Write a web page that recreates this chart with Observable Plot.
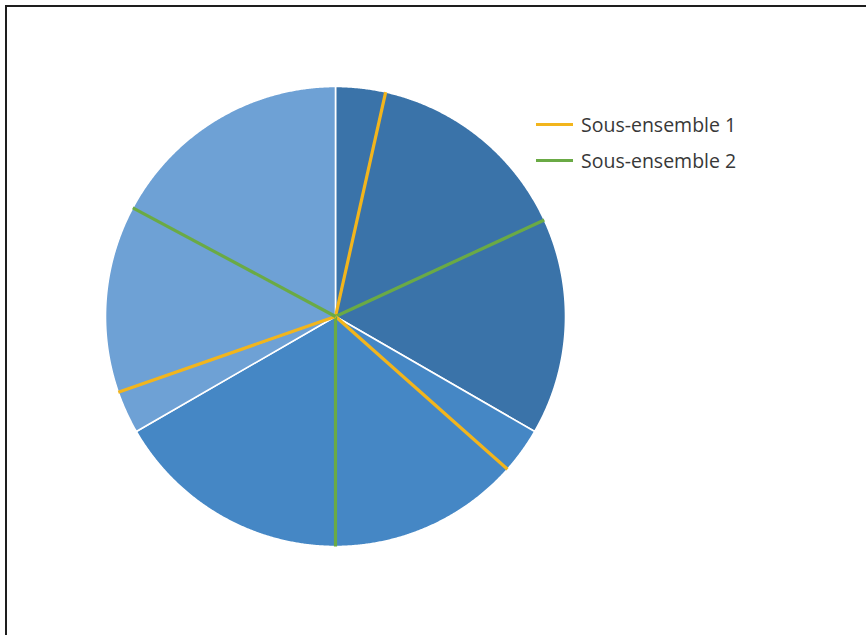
<!DOCTYPE html>
<html>
<head>
<meta charset="utf-8">
<script src="https://cdn.jsdelivr.net/npm/d3@7"></script>
<script src="https://cdn.jsdelivr.net/npm/@observablehq/plot@0.6"></script>
<style>
  html, body { margin: 0; padding: 0; background: #fff; }
  #wrap { position: relative; width: 866px; height: 635px; overflow: hidden; }
  #frame { position: absolute; left: 5px; top: 5px; width: 900px; height: 700px;
           border-top: 2px solid #1e1e1e; border-left: 2px solid #1e1e1e; pointer-events: none; }
  #legend { position: absolute; left: 536px; top: 106px; font-family: "Open Sans", "Liberation Sans", sans-serif;
            font-size: 19.5px; color: #383838; }
  .item { display: flex; align-items: center; height: 36px; }
  .swatch { width: 37px; height: 3px; margin-right: 8px; }
</style>
</head>
<body>
<div id="wrap">
  <div id="chart"></div>
  <div id="frame"></div>
  <div id="legend"></div>
</div>
<script>
// Slices (in reading order, clockwise from 12 o'clock), values read as angular shares
const sliceNames  = ["1a", "1b", "1c", "2a", "2b", "2c", "3a", "3b", "3c"];
const sliceGroups = ["Groupe 1", "Groupe 1", "Groupe 1", "Groupe 2", "Groupe 2", "Groupe 2", "Groupe 3", "Groupe 3", "Groupe 3"];
const sliceValues = [12.6, 52.6, 54.8, 11.6, 48.4, 60.0, 10.8, 47.4, 61.8];
// Line drawn on the edge that closes each slice
const edgeSeries  = ["Sous-ensemble 1", "Sous-ensemble 2", "bord", "Sous-ensemble 1", "Sous-ensemble 2", "bord", "Sous-ensemble 1", "Sous-ensemble 2", "bord"];
const groupNames  = ["Groupe 1", "Groupe 2", "Groupe 3"];
const legendNames = ["Sous-ensemble 1", "Sous-ensemble 2"];

const groupColors  = ["#3a73a9", "#4587c5", "#6ea1d5"];
const legendColors = ["#f2b51c", "#6aaa45"];

const W = 866, H = 635, R = 230, CX = 335, CY = 316;

const arcs = d3.pie().sort(null).value(d => d)(sliceValues);

// polygon vertices for each slice (center + arc)
const polys = [];
arcs.forEach((a, i) => {
  const n = Math.max(4, Math.ceil((a.endAngle - a.startAngle) / 0.005));
  polys.push({slice: sliceNames[i], group: sliceGroups[i], x: 0, y: 0});
  for (let k = 0; k <= n; k++) {
    const t = a.startAngle + (a.endAngle - a.startAngle) * k / n;
    polys.push({slice: sliceNames[i], group: sliceGroups[i], x: Math.sin(t), y: Math.cos(t)});
  }
  polys.push({slice: sliceNames[i], group: sliceGroups[i], x: 0, y: 0});
});

const edges = arcs.map((a, i) => ({series: edgeSeries[i], x: Math.sin(a.endAngle), y: Math.cos(a.endAngle)}));

const chart = Plot.plot({
  width: W, height: H,
  margin: 0,
  x: {domain: [-CX / R, (W - CX) / R], axis: null},
  y: {domain: [-(H - CY) / R, CY / R], axis: null},
  color: {domain: [...groupNames, ...legendNames], range: [...groupColors, ...legendColors]},
  marks: [
    Plot.line(polys, {x: "x", y: "y", z: "slice", fill: "group", stroke: "white", strokeWidth: 1.6, strokeLinejoin: "round"}),
    Plot.link(edges.filter(d => d.series !== "bord"), {x1: 0, y1: 0, x2: "x", y2: "y", stroke: "series", strokeWidth: 3.2})
  ]
});
document.getElementById("chart").appendChild(chart);

const legend = document.getElementById("legend");
legendNames.forEach((name, i) => {
  const item = document.createElement("div");
  item.className = "item";
  const sw = document.createElement("div");
  sw.className = "swatch";
  sw.style.background = legendColors[i];
  const tx = document.createElement("span");
  tx.textContent = name;
  item.appendChild(sw); item.appendChild(tx);
  legend.appendChild(item);
});
</script>
</body>
</html>
